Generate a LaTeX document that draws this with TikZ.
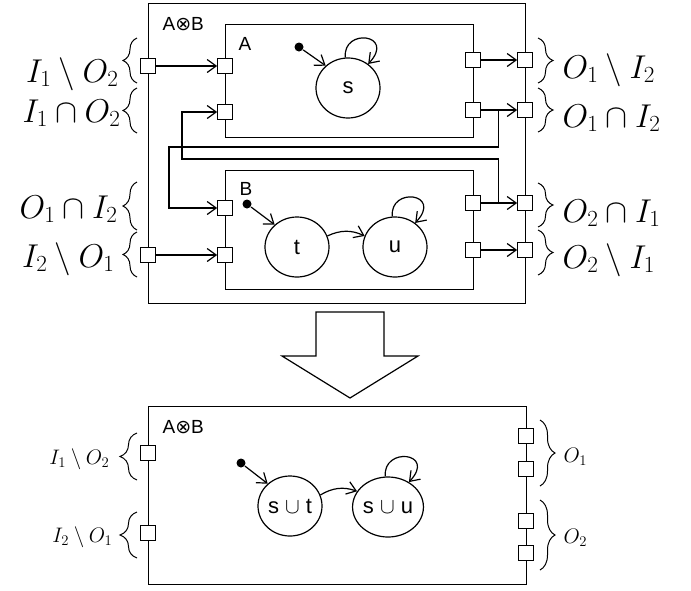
\RequirePackage{fix-cm}
\documentclass[tikz,border=0pt]{standalone}
\usepackage{amsmath,amssymb}
\usepackage{fontspec}
\setsansfont{Liberation Sans}
\newfontfamily\symfont{DejaVu Sans}
\usepackage{tikz}
\usetikzlibrary{arrows.meta,positioning,calc,shapes.geometric,decorations.pathreplacing}

\begin{document}
\begin{tikzpicture}[x=1pt,y=-1pt,>={Straight Barb[length=9pt,width=13pt]},line width=1.2pt,
    font=\sffamily\fontsize{19}{23}\selectfont,
    box/.style={draw,anchor=north west,inner sep=0pt},
    port/.style={draw,fill=white,minimum size=14.5pt,inner sep=0pt},
    state/.style={draw,ellipse,minimum width=64pt,minimum height=60pt,inner sep=0pt,
      font=\sffamily\fontsize{22}{26}\selectfont},
    init/.style={circle,fill=black,minimum size=9pt,inner sep=0pt},
    brc/.style={decorate,decoration={brace,amplitude=#1},line width=1pt},
    biglbl/.style={font=\fontsize{33}{40}\selectfont,inner sep=0pt},
    smalllbl/.style={font=\fontsize{21}{25}\selectfont,inner sep=0pt},
    tag/.style={anchor=base west,inner sep=0pt}]
  \useasboundingbox (0,0) rectangle (691,590);

  % composition A (x) B
  \node[box,minimum width=377pt,minimum height=300pt] (AB) at (148,3) {};
  \node[box,minimum width=248pt,minimum height=113pt] (A) at (225,24) {};
  \node[box,minimum width=248pt,minimum height=119pt] (B) at (225,170) {};
  \node[tag] (ABtag) at (162,30) {A{\symfont ⊗}B};
  \node[tag] (Atag) at (238,50) {A};
  \node[tag] (Btag) at (239,195) {B};

  \node[state] (s) at (348,88) {s};
  \node[state] (t) at (297,247) {t};
  \node[state] (u) at (395,247) {u};
  \node[init] (s0) at (299,47) {};
  \node[init] (t0) at (247,204) {};
  \draw[->] (s0) -- (s.135);
  \draw[->] (s.95) .. controls +(-3,-30) and +(28,-30) .. (s.50);
  \draw[->] (t0) -- (t.135);
  \draw[->] (t.20) to[bend left=25] (u.160);
  \draw[->] (u.95) .. controls +(-3,-30) and +(28,-30) .. (u.50);

  \foreach \p/\x/\y in {pI1/148/66,pI2/148/255,pA1/225/66,pA2/225/112,
      pB1/225/208,pB2/225/255,pA3/473/60,pA4/473/110,pB3/473/203,pB4/473/250,
      pO1/525/60,pO2/525/110,pO3/525/203,pO4/525/250}
    \node[port] (\p) at (\x,\y) {};

  \draw[->] (pI1) -- (pA1);
  \draw[->] (pI2) -- (pB2);
  \draw[->] (pA3) -- (pO1);
  \draw[->] (pA4) -- (pO2);
  \draw[->] (pB3) -- (pO3);
  \draw[->] (pB4) -- (pO4);
  \draw[->] (pA4.east) ++(18,0) |- (169,147) |- (pB1.west);
  \draw[->] (pB3.east) ++(18,0) |- (182,159) |- (pA2.west);

  \draw[brc=14] (137,83) -- (137,38);
  \draw[brc=14] (137,133) -- (137,88);
  \draw[brc=14] (137,230) -- (137,182);
  \draw[brc=14] (137,277) -- (137,232);
  \draw[brc=15] (538,38) -- (538,83);
  \draw[brc=15] (538,88) -- (538,132);
  \draw[brc=15] (538,183) -- (538,227);
  \draw[brc=15] (538,230) -- (538,275);
  \node[biglbl,anchor=base east] (inA) at (119,82) {$I_1 \setminus O_2$};
  \node[biglbl,anchor=base east] (fbA) at (121,122) {$I_1 \cap O_2$};
  \node[biglbl,anchor=base east] (fbB) at (118,218) {$O_1 \cap I_2$};
  \node[biglbl,anchor=base east] (inB) at (115,267) {$I_2 \setminus O_1$};
  \node[biglbl,anchor=base west] (outA) at (562,78) {$O_1 \setminus I_2$};
  \node[biglbl,anchor=base west] (toB) at (562,127) {$O_1 \cap I_2$};
  \node[biglbl,anchor=base west] (toA) at (562,222) {$O_2 \cap I_1$};
  \node[biglbl,anchor=base west] (outB) at (562,268) {$O_2 \setminus I_1$};

  % flattening
  \draw (316,312) -- (384,312) -- (384,356) -- (418,356) -- (350,398)
    -- (282,356) -- (316,356) -- cycle;

  \node[box,minimum width=378pt,minimum height=178pt] (M) at (148,406) {};
  \node[tag] (Mtag) at (162,433) {A{\symfont ⊗}B};
  \node[state] (st) at (290,506) {s $\cup$ t};
  \node[state] (su) at (388,507) {s $\cup$ u};
  \node[init] (st0) at (241,463) {};
  \draw[->] (st0) -- (st.135);
  \draw[->] (st.20) to[bend left=25] (su.153);
  \draw[->] (su.95) .. controls +(-3,-30) and +(28,-30) .. (su.50);

  \foreach \p/\x/\y in {mI1/148/453,mI2/148/533,mO1/526/436,mO2/526/469,
      mO3/526/521,mO4/526/553}
    \node[port] (\p) at (\x,\y) {};

  \draw[brc=17] (137,480) -- (137,433);
  \draw[brc=17] (137,558) -- (137,512);
  \draw[brc=15] (540,420) -- (540,486);
  \draw[brc=15] (540,500) -- (540,570);
  \node[smalllbl,anchor=base east] (mInA) at (110,464) {$I_1 \setminus O_2$};
  \node[smalllbl,anchor=base east] (mInB) at (113,542) {$I_2 \setminus O_1$};
  \node[smalllbl,anchor=base west] (mOutA) at (563,462) {$O_1$};
  \node[smalllbl,anchor=base west] (mOutB) at (563,543) {$O_2$};
\end{tikzpicture}
\end{document}
